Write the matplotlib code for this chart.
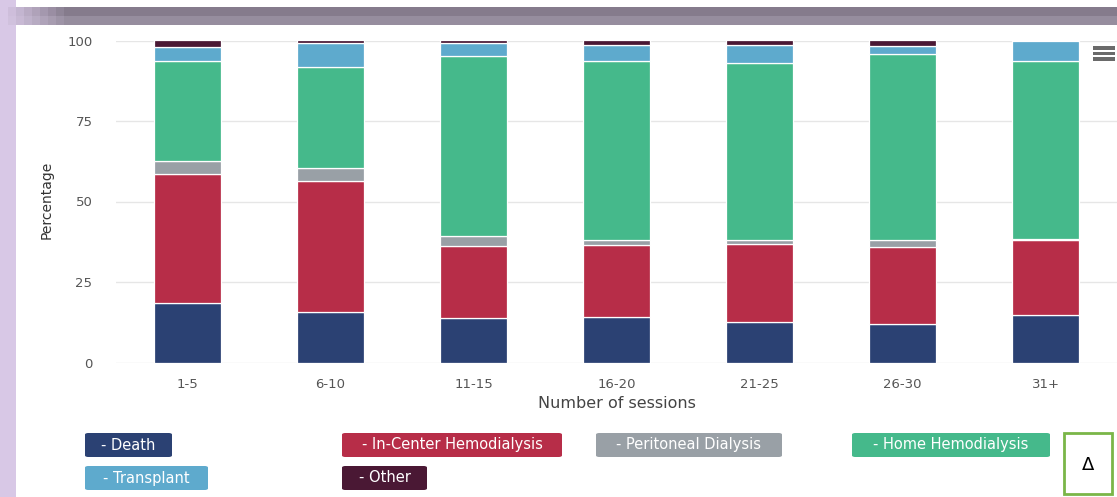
import numpy as np
import matplotlib
matplotlib.use("Agg")
import matplotlib.pyplot as plt
from matplotlib.patches import Rectangle, FancyBboxPatch

plt.rcParams['font.family'] = ['DejaVu Sans']

# ---- data -------------------------------------------------------------
categories = ["1-5", "6-10", "11-15", "16-20", "21-25", "26-30", "31+"]
death = [18.4, 15.8, 13.7, 14.2, 12.5, 11.9, 14.7]
in_center_hd = [40.1, 40.6, 22.6, 22.3, 24.3, 24.1, 23.3]
peritoneal = [4.1, 3.9, 3.1, 1.6, 1.2, 2.0, 0.3]
home_hd = [31.0, 31.6, 55.9, 55.6, 55.0, 57.7, 55.4]
transplant = [4.5, 7.3, 3.9, 5.0, 5.7, 2.5, 6.3]
other = [1.9, 0.8, 0.8, 1.3, 1.3, 1.8, 0.0]

series_names = ["Death", "In-Center Hemodialysis", "Peritoneal Dialysis",
                "Home Hemodialysis", "Transplant", "Other"]
series_values = [death, in_center_hd, peritoneal, home_hd, transplant, other]
series_colors = ["#2b4173", "#b72d48", "#99a0a6", "#45b98b", "#5eaacd", "#4a1834"]
y_ticks = [0, 25, 50, 75, 100]

W, H = 1117, 497
fig = plt.figure(figsize=(W / 100, H / 100), dpi=100)
fig.patch.set_facecolor("white")


def fbox(x0, y0, x1, y1):
    """Pixel box (top-left origin) -> figure-fraction rectangle args."""
    return (x0 / W, 1 - y1 / H), (x1 - x0) / W, (y1 - y0) / H


# ---- page chrome --------------------------------------------------------
lav = "#d8c8e6"
fig.patches.append(Rectangle(*fbox(0, 0, 16, H), transform=fig.transFigure,
                             facecolor=lav, edgecolor="none", zorder=0))
fig.patches.append(Rectangle(*fbox(0, 0, 8, 7), transform=fig.transFigure,
                             facecolor=lav, edgecolor="none", zorder=0))
# header band fading from lavender into grey
band_top = np.array([0x85, 0x7b, 0x8c]) / 255
band_bot = np.array([0x96, 0x8d, 0x9e]) / 255
lav_rgb = np.array([0xd8, 0xc8, 0xe6]) / 255
for i, xs in enumerate(range(8, 80, 8)):
    t = min(1.0, (i + 1) / 8)
    fig.patches.append(Rectangle(*fbox(xs, 7, xs + 8, 16), transform=fig.transFigure,
                                 facecolor=lav_rgb * (1 - t) + band_top * t,
                                 edgecolor="none", zorder=0))
    fig.patches.append(Rectangle(*fbox(xs, 16, xs + 8, 25), transform=fig.transFigure,
                                 facecolor=lav_rgb * (1 - t) + band_bot * t,
                                 edgecolor="none", zorder=0))
fig.patches.append(Rectangle(*fbox(80, 7, W, 16), transform=fig.transFigure,
                             facecolor=band_top, edgecolor="none", zorder=0))
fig.patches.append(Rectangle(*fbox(80, 16, W, 25), transform=fig.transFigure,
                             facecolor=band_bot, edgecolor="none", zorder=0))

# ---- chart --------------------------------------------------------------
ax_l, ax_r, ax_t, ax_b = 116, 1117, 40.5, 362.5
ax = fig.add_axes([ax_l / W, 1 - ax_b / H, (ax_r - ax_l) / W, (ax_b - ax_t) / H])
ax.set_facecolor("white")
x = np.arange(len(categories))
bottom = np.zeros(len(categories))
for name, vals, col in zip(series_names, series_values, series_colors):
    v = np.array(vals)
    ax.bar(x, v, width=0.47, bottom=bottom, color=col, edgecolor="white",
           linewidth=0.9, zorder=3, label=name)
    bottom += v

ax.set_xlim(-0.5, len(categories) - 0.5)
ax.set_ylim(0, 100)
ax.set_yticks(y_ticks)
ax.set_yticklabels([str(t) for t in y_ticks])
ax.set_xticks(x)
ax.set_xticklabels(categories)
ax.grid(axis="y", color="#e6e6e6", linewidth=1.0, zorder=0)
for s in ax.spines.values():
    s.set_visible(False)
ax.tick_params(axis="both", length=0, colors="#555555", labelsize=9.5)
ax.tick_params(axis="y", pad=17)
ax.tick_params(axis="x", pad=11)
ax.set_xlabel("Number of sessions", fontsize=11.5, color="#444444", labelpad=4)
fig.text(47 / W, 1 - 200 / H, "Percentage", rotation=90, fontsize=10,
         color="#333333", ha="center", va="center")

# menu glyph at the top right
for yy in (48, 53.5, 59):
    fig.patches.append(Rectangle(*fbox(1093, yy - 2, 1115, yy + 1.5),
                                 transform=fig.transFigure,
                                 facecolor="#6a6a6a", edgecolor="none", zorder=5))

# ---- legend as coloured tags -------------------------------------------
legend_boxes = [(85, 433, 172, 457), (342, 433, 562, 457), (596, 433, 782, 457),
                (852, 433, 1050, 457), (85, 466, 208, 490), (342, 466, 427, 490)]
for name, col, (x0, y0, x1, y1) in zip(series_names, series_colors, legend_boxes):
    (fx, fy), fw, fh = fbox(x0, y0, x1, y1)
    fig.patches.append(FancyBboxPatch((fx, fy), fw, fh, transform=fig.transFigure,
                                      boxstyle="round,pad=0,rounding_size=0.003",
                                      facecolor=col, edgecolor="none", zorder=4))
    fig.text((x0 + x1) / 2 / W, 1 - (y0 + y1) / 2 / H, "- " + name,
             color="white", fontsize=10.5, ha="center", va="center", zorder=6)

# delta marker box
fig.patches.append(Rectangle(*fbox(1064, 433, 1112, 494), transform=fig.transFigure,
                             facecolor="white", edgecolor="#7ab648", linewidth=2,
                             zorder=5))
fig.text(1088 / W, 1 - 465 / H, "Δ", fontsize=13, color="black",
         ha="center", va="center", zorder=6)

fig.savefig("out.png", dpi=100)
